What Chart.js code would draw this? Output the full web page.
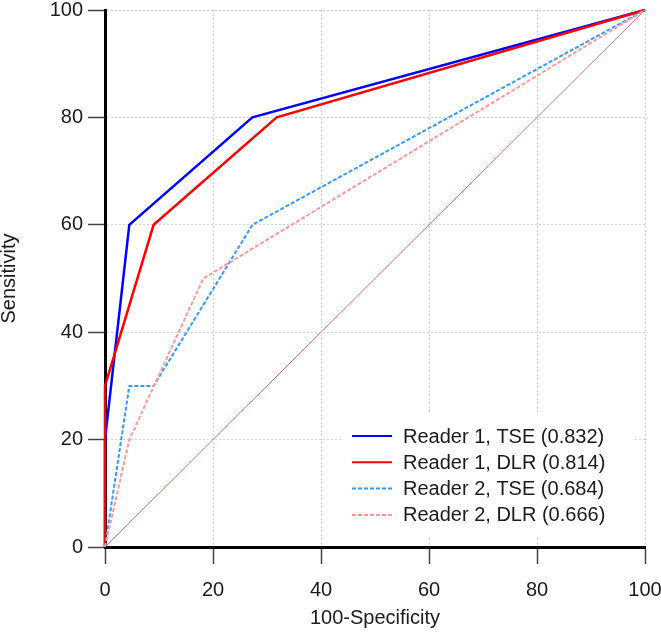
<!DOCTYPE html>
<html>
<head>
<meta charset="utf-8">
<script src="https://cdn.jsdelivr.net/npm/chart.js@4.4.0/dist/chart.umd.min.js"></script>
<style>
  html, body { margin: 0; padding: 0; background: #fff; }
  #wrap { width: 661px; height: 632px; }
</style>
</head>
<body>
<div id="wrap"><canvas id="rocChart" width="661" height="632"></canvas></div>
<script>
// values (x = 100-Specificity, y = Sensitivity)
var reader1TseX = [0, 0, 4.5, 27.3, 100];
var reader1TseY = [0, 20, 60, 80, 100];
var reader1DlrX = [0, 0, 9, 31.8, 100];
var reader1DlrY = [0, 30, 60, 80, 100];
var reader2TseX = [0, 4.5, 9, 27.3, 100];
var reader2TseY = [0, 30, 30, 60, 100];
var reader2DlrX = [0, 4.5, 18.2, 100];
var reader2DlrY = [0, 20, 50, 100];
var diagonalX = [0, 100];
var diagonalY = [0, 100];

var seriesLabels = [
  "Reader 1, TSE (0.832)",
  "Reader 1, DLR (0.814)",
  "Reader 2, TSE (0.684)",
  "Reader 2, DLR (0.666)"
];
var xTitle = "100-Specificity";
var yTitle = "Sensitivity";

function toPoints(xs, ys) {
  var pts = [];
  for (var i = 0; i < xs.length; i++) {
    pts.push({ x: xs[i], y: ys[i] });
  }
  return pts;
}

var fontFamily = "'Liberation Sans', Arial, Helvetica, sans-serif";

// legend drawn inside the plot, bottom right, on a white box
var insideLegend = {
  id: "insideLegend",
  afterDatasetsDraw: function(chart) {
    var ctx = chart.ctx;
    var area = chart.chartArea;
    var boxRight = area.right - 11;
    var boxLeft = boxRight - 292;
    var boxBottom = area.bottom - 11;
    var boxTop = boxBottom - 122;
    ctx.save();
    ctx.fillStyle = "#ffffff";
    ctx.fillRect(boxLeft, boxTop, boxRight - boxLeft, boxBottom - boxTop);
    ctx.font = "20px " + fontFamily;
    ctx.textBaseline = "middle";
    ctx.fillStyle = "#1a1a1a";
    var rowY = boxTop + 22;
    chart.data.datasets.forEach(function(ds) {
      if (!ds.inLegend) return;
      ctx.beginPath();
      ctx.strokeStyle = ds.borderColor;
      ctx.lineWidth = 2;
      ctx.setLineDash(ds.borderDash || []);
      ctx.moveTo(boxLeft + 10, rowY);
      ctx.lineTo(boxLeft + 50, rowY);
      ctx.stroke();
      ctx.setLineDash([]);
      ctx.fillText(ds.label, boxLeft + 61, rowY + 1);
      rowY += 26.3;
    });
    ctx.restore();
  }
};

var ctx = document.getElementById("rocChart").getContext("2d");
var chart = new Chart(ctx, {
  type: "scatter",
  data: {
    datasets: [
      {
        label: seriesLabels[0],
        data: toPoints(reader1TseX, reader1TseY),
        borderColor: "#0000ff",
        borderWidth: 2.5,
        inLegend: true,
        order: 4
      },
      {
        label: seriesLabels[1],
        data: toPoints(reader1DlrX, reader1DlrY),
        borderColor: "#ff0000",
        borderWidth: 2.5,
        inLegend: true,
        order: 3
      },
      {
        label: seriesLabels[2],
        data: toPoints(reader2TseX, reader2TseY),
        borderColor: "#3399ff",
        borderWidth: 2,
        borderDash: [4, 2],
        inLegend: true,
        order: 2
      },
      {
        label: seriesLabels[3],
        data: toPoints(reader2DlrX, reader2DlrY),
        borderColor: "#ff9999",
        borderWidth: 2,
        borderDash: [4, 2],
        inLegend: true,
        order: 1
      },
      {
        label: "",
        data: toPoints(diagonalX, diagonalY),
        borderColor: "#c87474",
        borderWidth: 1,
        inLegend: false,
        order: 10
      }
    ]
  },
  options: {
    responsive: false,
    animation: false,
    showLine: true,
    clip: false,
    elements: {
      point: { radius: 0, hoverRadius: 0 },
      line: { tension: 0, fill: false }
    },
    layout: { padding: { left: 0, top: 10, right: 16, bottom: 0 } },
    plugins: {
      legend: { display: false },
      tooltip: { enabled: false }
    },
    scales: {
      x: {
        type: "linear",
        min: 0,
        max: 100,
        ticks: {
          stepSize: 20,
          padding: 14,
          color: "#1a1a1a",
          font: { family: fontFamily, size: 20 }
        },
        grid: {
          color: "#d4d4d4",
          lineWidth: 1,
          tickLength: 17,
          tickColor: "#444",
          tickWidth: 1.5
        },
        border: { display: true, color: "#000", width: 3, dash: [2, 2] },
        title: {
          display: true,
          text: xTitle,
          color: "#1a1a1a",
          font: { family: fontFamily, size: 20, lineHeight: 1.2 },
          padding: { top: 0, bottom: 2 }
        },
        afterFit: function(scale) {
          scale.height = 85;
          // let the last label hang over the edge instead of shrinking the plot
          scale.paddingLeft = 0;
          scale.paddingRight = 0;
        }
      },
      y: {
        type: "linear",
        min: 0,
        max: 100,
        ticks: {
          stepSize: 20,
          padding: 5,
          color: "#1a1a1a",
          font: { family: fontFamily, size: 20 }
        },
        grid: {
          color: "#d4d4d4",
          lineWidth: 1,
          tickLength: 17,
          tickColor: "#444",
          tickWidth: 1.5
        },
        border: { display: true, color: "#000", width: 3, dash: [2, 2] },
        title: {
          display: true,
          text: yTitle,
          color: "#1a1a1a",
          font: { family: fontFamily, size: 20, lineHeight: 0.9 },
          padding: { top: 0, bottom: 0 }
        },
        afterFit: function(scale) {
          scale.width = 105;
          scale.paddingTop = 0;
          scale.paddingBottom = 0;
        }
      }
    }
  },
  plugins: [insideLegend]
});
</script>
</body>
</html>
